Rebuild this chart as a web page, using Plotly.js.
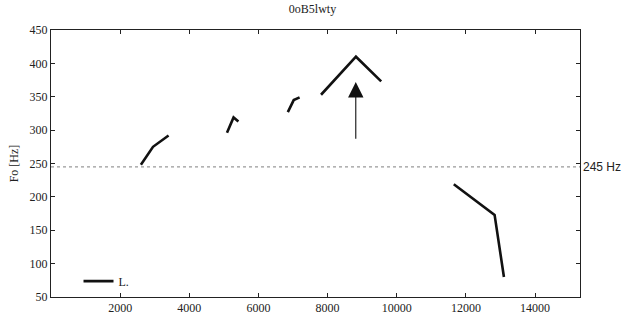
<!DOCTYPE html>
<html>
<head>
<meta charset="utf-8">
<script src="https://cdn.plot.ly/plotly-3.0.1.min.js"></script>
<style>html,body{margin:0;padding:0;background:#fff;}#chart{width:625px;height:314px;}</style>
</head>
<body>
<div id="chart"></div>
<script>
// F0 contour segments (time in samples, F0 in Hz); null separates voiced segments
const timeX = [2600, 2950, 3400, null,
               5090, 5280, 5420, null,
               6850, 7020, 7190, null,
               7810, 8820, 9550, null,
               11650, 12830, 13100];
const f0Hz  = [248, 275, 292, null,
               296, 319, 313, null,
               327, 345, 349, null,
               353, 410, 373, null,
               219, 173, 80];
const refLevel = 245;           // dotted reference line
const refLabel = "245 Hz";
const arrowX = 8815;
const arrowTail = 285;
const arrowTip = 372;
const xTicks = [2000, 4000, 6000, 8000, 10000, 12000, 14000];
const yTicks = [50, 100, 150, 200, 250, 300, 350, 400, 450];

const serif = "Liberation Serif, Times New Roman, serif";
const ink = "#222";

const traces = [{
  x: timeX, y: f0Hz, type: "scatter", mode: "lines", name: "L.",
  connectgaps: false,
  line: {color: "#111", width: 2.6}
}];

const layout = {
  width: 625, height: 314,
  margin: {l: 51, r: 45, t: 30, b: 17},
  paper_bgcolor: "#fff", plot_bgcolor: "#fff",
  title: {text: "0oB5lwty", x: 0.5, xanchor: "center", y: 0.985, yanchor: "top",
          font: {family: serif, size: 12, color: ink}},
  font: {family: serif, size: 12, color: ink},
  xaxis: {
    range: [0, 15300], tickvals: xTicks, ticktext: xTicks.map(String),
    ticks: "inside", ticklen: 4, tickcolor: ink, mirror: "ticks",
    showline: true, linecolor: ink, linewidth: 1, showgrid: false, zeroline: false,
    tickfont: {family: serif, size: 12, color: ink}
  },
  yaxis: {
    range: [50, 450], tickvals: yTicks, ticktext: yTicks.map(String),
    ticks: "inside", ticklen: 4, tickcolor: ink, mirror: "ticks",
    showline: true, linecolor: ink, linewidth: 1, showgrid: false, zeroline: false,
    tickfont: {family: serif, size: 12, color: ink},
    title: {text: "Fo [Hz]", standoff: 8, font: {family: serif, size: 12, color: ink}}
  },
  showlegend: true,
  legend: {x: 0.052, y: 0.005, xanchor: "left", yanchor: "bottom",
           bgcolor: "rgba(0,0,0,0)", itemwidth: 30,
           font: {family: serif, size: 12, color: ink}},
  shapes: [{
    type: "line", xref: "paper", x0: 0, x1: 1, yref: "y", y0: refLevel, y1: refLevel,
    line: {color: "#999", width: 1.2, dash: "dot"}
  }],
  annotations: [
    {x: arrowX, y: arrowTip, ax: arrowX, ay: arrowTail, xref: "x", yref: "y",
     axref: "x", ayref: "y", showarrow: true, arrowhead: 2, arrowsize: 2.8,
     arrowwidth: 1.1, arrowcolor: "#111", text: ""},
    {x: 1, xref: "paper", y: refLevel, yref: "y", xanchor: "left", yanchor: "middle",
     xshift: 1, text: refLabel, showarrow: false,
     font: {family: "Liberation Sans, Arial, sans-serif", size: 12, color: ink}}
  ]
};

Plotly.newPlot("chart", traces, layout, {displayModeBar: false, staticPlot: true});
</script>
</body>
</html>
